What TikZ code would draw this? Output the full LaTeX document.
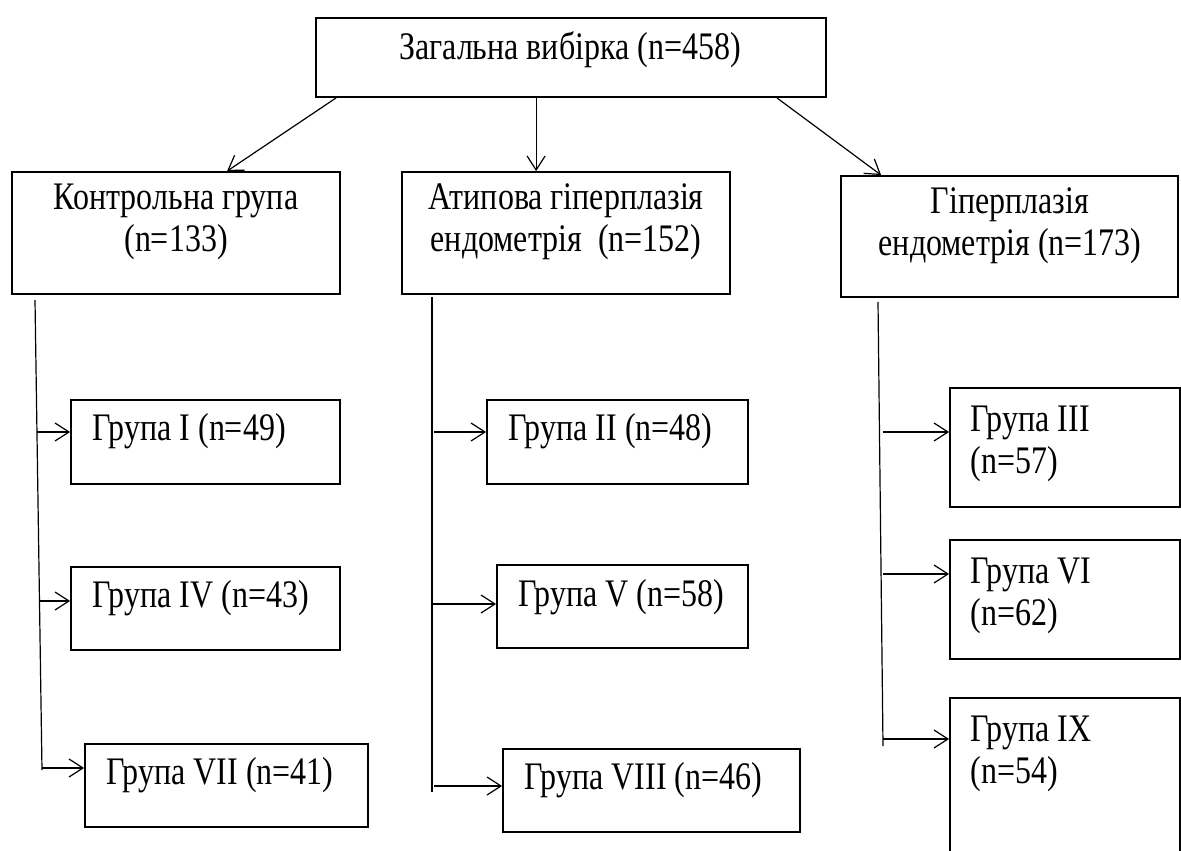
\documentclass[tikz,border=0pt]{standalone}
\usepackage{fontspec}
\setmainfont{Liberation Serif}[FakeStretch=0.82]
\usetikzlibrary{arrows.meta,fit,calc}

\tikzset{
  box/.style={draw, rectangle, line width=0.9pt, inner sep=0pt},
  lbl/.style={font=\fontsize{19.5}{21}\selectfont, inner sep=0pt},
  arr/.style={-{Straight Barb[length=7pt,width=9pt]}, line width=0.6pt},
  trunk/.style={line width=0.6pt}
}

\begin{document}
\begin{tikzpicture}[x=0.5pt,y=-0.5pt]
  \useasboundingbox (0,0) rectangle (1181,850);

  % whole sample
  \node[box, fit={(316,18) (826,97)}] (total) {};
  \node[lbl] (total-t) at (570,50) {Загальна вибірка (n=458)};

  % three main groups
  \node[box, fit={(12,172) (340,294)}] (ctrl) {};
  \node[lbl, align=center] (ctrl-t) at (176,222) {Контрольна група\\(n=133)};
  \node[box, fit={(402,172) (730,294)}] (atyp) {};
  \node[lbl, align=center] (atyp-t) at (566,222) {Атипова гіперплазія\\ендометрія\ \ (n=152)};
  \node[box, fit={(841,176) (1178,297)}] (hyp) {};
  \node[lbl, align=center] (hyp-t) at (1010,226) {Гіперплазія\\ендометрія (n=173)};

  \draw[arr] ($(total.south west)+(21,0)$) -- ($(ctrl.north west)+(216,0)$);
  \draw[arr] ($(total.south west)+(221,0)$) -- ($(atyp.north west)+(135,0)$);
  \draw[arr] ($(total.south east)+(-50,0)$) -- ($(hyp.north west)+(41,0)$);

  % subgroups, control
  \node[box, fit={(71,400) (340,484)}] (g1) {};
  \node[lbl, anchor=west] (g1-t) at (92,431) {Група I (n=49)};
  \node[box, fit={(71,567) (340,650)}] (g4) {};
  \node[lbl, anchor=west] (g4-t) at (92,598) {Група IV (n=43)};
  \node[box, fit={(85,744) (368,827)}] (g7) {};
  \node[lbl, anchor=west] (g7-t) at (106,775) {Група VII (n=41)};

  \coordinate (ctrl-a) at (35,300);
  \coordinate (ctrl-b) at (42,770);
  \draw[trunk] (ctrl-a) -- (ctrl-b);
  \coordinate (b1) at (37,432);
  \coordinate (b4) at (39,601);
  \coordinate (b7) at (42,768);
  \draw[arr] (b1) -- (b1 -| g1.west);
  \draw[arr] (b4) -- (b4 -| g4.west);
  \draw[arr] (b7) -- (b7 -| g7.west);

  % subgroups, atypical
  \node[box, fit={(487,400) (748,484)}] (g2) {};
  \node[lbl, anchor=west] (g2-t) at (508,431) {Група II (n=48)};
  \node[box, fit={(497,565) (748,648)}] (g5) {};
  \node[lbl, anchor=west] (g5-t) at (518,597) {Група V (n=58)};
  \node[box, fit={(503,749) (800,832)}] (g8) {};
  \node[lbl, anchor=west] (g8-t) at (524,780) {Група VIII (n=46)};

  \coordinate (atyp-a) at (432,297);
  \coordinate (atyp-b) at (432,792);
  \draw[trunk] (atyp-a) -- (atyp-b);
  \coordinate (b2) at (434,432);
  \coordinate (b5) at (432,604);
  \coordinate (b8) at (434,786);
  \draw[arr] (b2) -- (b2 -| g2.west);
  \draw[arr] (b5) -- (b5 -| g5.west);
  \draw[arr] (b8) -- (b8 -| g8.west);

  % subgroups, hyperplasia
  \node[box, fit={(950,388) (1180,507)}] (g3) {};
  \node[lbl, anchor=west, align=left] (g3-t) at (970,444) {Група III\\(n=57)};
  \node[box, fit={(950,540) (1180,659)}] (g6) {};
  \node[lbl, anchor=west, align=left] (g6-t) at (970,596) {Група VI\\(n=62)};
  \node[box, fit={(950,698) (1180,880)}] (g9) {};
  \node[lbl, anchor=west, align=left] (g9-t) at (970,754) {Група IX\\(n=54)};

  \coordinate (hyp-a) at (878,302);
  \coordinate (hyp-b) at (883,746);
  \draw[trunk] (hyp-a) -- (hyp-b);
  \coordinate (b3) at (883,432);
  \coordinate (b6) at (883,574);
  \coordinate (b9) at (883,739);
  \draw[arr] (b3) -- (b3 -| g3.west);
  \draw[arr] (b6) -- (b6 -| g6.west);
  \draw[arr] (b9) -- (b9 -| g9.west);
\end{tikzpicture}
\end{document}
